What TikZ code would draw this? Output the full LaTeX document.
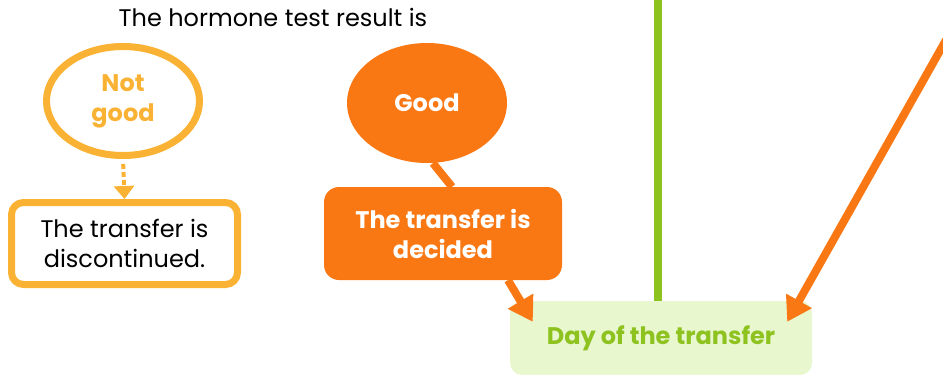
\documentclass[tikz,border=0pt]{standalone}
\usepackage{fontspec}
\setmainfont{Poppins}
\usetikzlibrary{shapes.geometric,arrows.meta}
\definecolor{amber}{HTML}{F9B233}
\definecolor{tangerine}{HTML}{FA7814}
\definecolor{leaf}{HTML}{8DC21F}
\definecolor{paleleaf}{HTML}{E8F7CE}
\tikzset{
  txt/.style={font=\fontsize{24}{30}\selectfont, align=center},
  boldtxt/.style={font=\fontsize{24}{30}\selectfont\bfseries, align=center},
  bigtip/.style={-{Triangle[width=28pt,length=24pt]}},
}
\begin{document}
\begin{tikzpicture}[x=1pt,y=-1pt]
    \useasboundingbox (0,0) rectangle (943,375);
    \coordinate (greentop) at (658,0);
    \coordinate (farright) at (946,40);

    \node[txt] (title) at (273,17) {The hormone test result is};

    \node[boldtxt, ellipse, draw=amber, line width=7pt, inner sep=0pt, minimum width=153pt, minimum height=109pt, text=amber] (notgood) at (123,101) {Not\\good};
    \node[txt, draw=amber, line width=7pt, rounded corners=12pt, minimum width=226pt, minimum height=82pt] (discont) at (124.5,243.5) {The transfer is\\discontinued.};

    \node[boldtxt, ellipse, fill=tangerine, inner sep=0pt, minimum width=160pt, minimum height=120pt, text=white] (good) at (427,103) {Good};
    \node[boldtxt, fill=tangerine, rounded corners=15pt, minimum width=238pt, minimum height=93pt, text=white] (decided) at (443,233.5) {The transfer is\\decided};

    \node[boldtxt, fill=paleleaf, rounded corners=12pt, minimum width=302pt, minimum height=74pt, text=leaf] (day) at (661,338) {Day of the transfer};

    \draw[amber, line width=4pt, dash pattern=on 5pt off 3pt, -{Triangle[width=20pt,length=13pt]}, shorten <=5pt] (notgood.south) -- (discont.north);

    \draw[tangerine, line width=8pt] ([xshift=6pt]good.south) -- ([xshift=9pt]decided.north);
    \draw[tangerine, line width=8pt, bigtip] ([xshift=65pt]decided.south) -- ([xshift=23pt,yshift=-21pt]day.north west);
    \draw[tangerine, line width=8pt, bigtip] (farright) -- ([xshift=-25pt,yshift=-21pt]day.north east);

    \draw[leaf, line width=8pt] (greentop) -- (greentop |- day.north);
\end{tikzpicture}
\end{document}
